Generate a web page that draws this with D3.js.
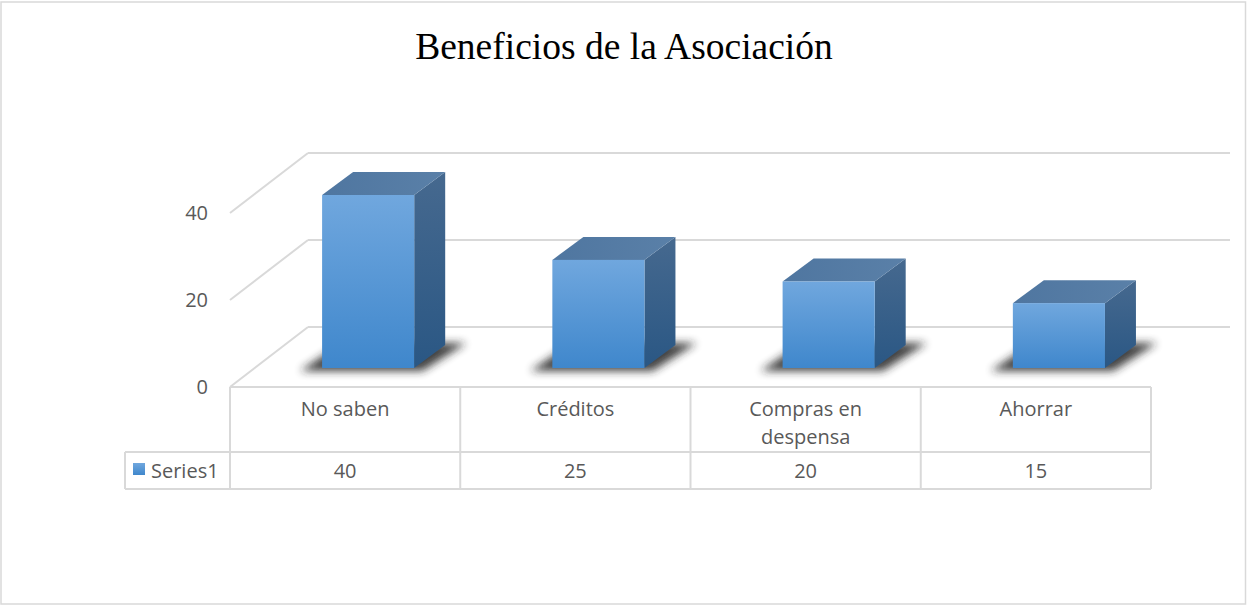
<!DOCTYPE html>
<html><head><meta charset="utf-8">
<script src="https://cdn.jsdelivr.net/npm/d3@7"></script>
<style>html,body{margin:0;padding:0;background:#fff;}svg{display:block;}</style>
</head><body>
<script>
const categories = ["No saben", "Créditos", "Compras en despensa", "Ahorrar"];
const categoryLines = [["No saben"], ["Créditos"], ["Compras en", "despensa"], ["Ahorrar"]];
const values = [40, 25, 20, 15];
const seriesName = "Series1";
const tickValues = [0, 20, 40];
const title = "Beneficios de la Asociación";

const W = 1247, H = 605;
const svg = d3.select("body").append("svg").attr("width", W).attr("height", H);

const defs = svg.append("defs");
const gFront = defs.append("linearGradient").attr("id","gFront").attr("x1",0).attr("y1",0).attr("x2",0).attr("y2",1);
gFront.append("stop").attr("offset","0%").attr("stop-color","#70a7de");
gFront.append("stop").attr("offset","100%").attr("stop-color","#3f87cc");
const gSide = defs.append("linearGradient").attr("id","gSide").attr("x1",0).attr("y1",0).attr("x2",0).attr("y2",1);
gSide.append("stop").attr("offset","0%").attr("stop-color","#46698f");
gSide.append("stop").attr("offset","100%").attr("stop-color","#2a5784");
const gTop = defs.append("linearGradient").attr("id","gTop").attr("x1",0).attr("y1",0).attr("x2",1).attr("y2",0);
gTop.append("stop").attr("offset","0%").attr("stop-color","#4f76a0");
gTop.append("stop").attr("offset","100%").attr("stop-color","#5a80a8");
const blur = defs.append("filter").attr("id","blur").attr("x","-50%").attr("y","-50%").attr("width","200%").attr("height","200%");
blur.append("feGaussianBlur").attr("stdDeviation",4);

// outer border
svg.append("rect").attr("x",1).attr("y",2).attr("width",W-2.5).attr("height",H-3)
  .attr("fill","none").attr("stroke","#d9d9d9").attr("stroke-width",1.5);

// title
svg.append("text").attr("x",624).attr("y",59).attr("text-anchor","middle")
  .attr("font-family","'Liberation Serif','Times New Roman',serif").attr("font-size",37.5)
  .attr("fill","#000").text(title);

// geometry
const tableLeft = 230, tableRight = 1151;
const x = d3.scaleBand().domain(categories).range([tableLeft, tableRight]).padding(0);
const yBack = d3.scaleLinear().domain([0, 40]).range([327, 153]);
const yFront = d3.scaleLinear().domain([0, 40]).range([368, 195]);
const backLeft = 308, backRight = 1230;
const depthDx = -78, depthDy = 60;

// grid (back wall + side wall)
const grid = svg.append("g").attr("stroke","#d9d9d9").attr("stroke-width",2).attr("fill","none");
tickValues.forEach(v => {
  grid.append("line").attr("x1",backLeft).attr("x2",backRight).attr("y1",yBack(v)).attr("y2",yBack(v));
  grid.append("line").attr("x1",backLeft).attr("y1",yBack(v)).attr("x2",backLeft+depthDx).attr("y2",yBack(v)+depthDy);
});

// y labels
const fontSans = "'Open Sans','Noto Sans',sans-serif";
const fs = 20;
svg.append("g").selectAll("text").data(tickValues).join("text")
  .attr("x",208).attr("y",d => yBack(d)+depthDy+7).attr("text-anchor","end")
  .attr("font-family",fontSans).attr("font-size",fs).attr("fill","#595959").text(d => d);

// bars
const bw = x.bandwidth()*0.4;
const bdx = 31, bdy = -23;
const bars = svg.append("g");
categories.forEach((c,i) => {
  const x0 = x(c) + x.bandwidth()*0.4, x1 = x0 + bw;
  const yb = yFront(0), yt = yFront(values[i]);
  bars.append("path")
    .attr("d", `M${x0-22},${yb+3} L${x1+8},${yb+3} L${x1+52},${yb-25} L${x0+20},${yb-25} Z`)
    .attr("fill","#222").attr("opacity",0.85).attr("filter","url(#blur)");
  bars.append("path").attr("d",`M${x1},${yt} L${x1+bdx},${yt+bdy} L${x1+bdx},${yb+bdy} L${x1},${yb} Z`).attr("fill","url(#gSide)");
  bars.append("path").attr("d",`M${x0},${yt} L${x0+bdx},${yt+bdy} L${x1+bdx},${yt+bdy} L${x1},${yt} Z`).attr("fill","url(#gTop)");
  bars.append("rect").attr("x",x0).attr("y",yt).attr("width",bw).attr("height",yb-yt).attr("fill","url(#gFront)");
});

// data table
const tTop = 387, tMid = 452, tBot = 489, legLeft = 125;
const tbl = svg.append("g").attr("stroke","#d9d9d9").attr("stroke-width",2).attr("fill","none");
tbl.append("line").attr("x1",tableLeft).attr("x2",tableRight).attr("y1",tTop).attr("y2",tTop);
tbl.append("line").attr("x1",legLeft).attr("x2",tableRight).attr("y1",tMid).attr("y2",tMid);
tbl.append("line").attr("x1",legLeft).attr("x2",tableRight).attr("y1",tBot).attr("y2",tBot);
tbl.append("line").attr("x1",legLeft).attr("x2",legLeft).attr("y1",tMid).attr("y2",tBot);
categories.forEach(c => {
  tbl.append("line").attr("x1",x(c)).attr("x2",x(c)).attr("y1",tTop).attr("y2",tBot);
});
tbl.append("line").attr("x1",tableRight).attr("x2",tableRight).attr("y1",tTop).attr("y2",tBot);

const txt = svg.append("g").attr("font-family",fontSans).attr("font-size",fs).attr("fill","#595959").attr("text-anchor","middle");
categories.forEach((c,i) => {
  const cx = x(c) + x.bandwidth()/2;
  categoryLines[i].forEach((ln,j) => {
    txt.append("text").attr("x",cx).attr("y",416 + j*28).text(ln);
  });
  txt.append("text").attr("x",cx).attr("y",478).text(values[i]);
});

// legend
svg.append("rect").attr("x",133).attr("y",463).attr("width",12).attr("height",12).attr("fill","url(#gFront)");
svg.append("text").attr("x",151).attr("y",478).attr("font-family",fontSans).attr("font-size",fs).attr("fill","#595959").text(seriesName);
</script>
</body></html>
